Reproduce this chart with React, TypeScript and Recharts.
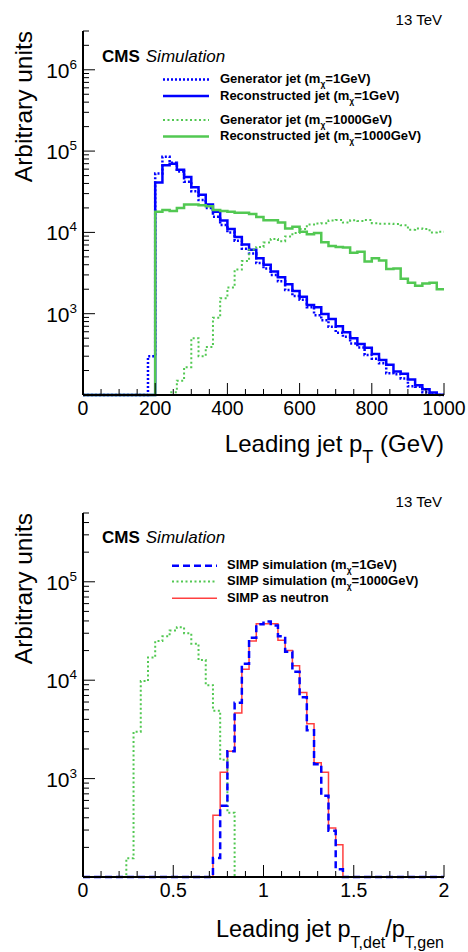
import React from 'react';
import { LineChart, Line, XAxis, YAxis, Legend } from 'recharts';

const FONT = '"Liberation Sans", Arial, Helvetica, sans-serif';
const BLUE = '#0000ff';
const GREEN = '#52c852';
const RED = '#ff4040';

// ---- top panel: leading jet pT, 20 GeV bins, 0..1000 GeV ----
const PT_BIN = 20;
const PT_GEN_1 = [
  0, 0, 0, 0, 0, 0, 0, 0, 0, 300,
  53000, 85000, 72000, 56000, 42000, 32000, 25000, 20000, 15600, 12300,
  10000, 7900, 6300, 5500, 4200, 3600, 3000, 2500, 1950, 1650,
  1480, 1200, 960, 830, 690, 585, 520, 430, 385, 310,
  280, 245, 185, 180, 160, 128, 126, 108, 102, 0,
];
const PT_RECO_1 = [
  0, 0, 0, 0, 0, 0, 0, 0, 0, 0,
  41000, 67000, 70000, 59000, 48000, 36000, 29000, 22000, 18000, 14000,
  11000, 8800, 7100, 6100, 4800, 4000, 3300, 2800, 2300, 1900,
  1620, 1280, 1200, 990, 860, 700, 590, 500, 425, 380,
  320, 270, 235, 195, 182, 155, 132, 118, 107, 101,
];
const PT_GEN_1000 = [
  0, 0, 0, 0, 0, 0, 0, 0, 0, 0,
  0, 0, 108, 150, 220, 500, 300, 390, 890, 1550,
  2100, 3500, 4450, 6100, 6600, 7500, 8300, 7800, 8900, 9800,
  11000, 12500, 12900, 13000, 14000, 14200, 13200, 14100, 13800, 14200,
  13000, 12800, 12800, 12700, 12200, 10800, 11200, 11000, 10000, 10200,
];
const PT_RECO_1000 = [
  0, 0, 0, 0, 0, 0, 0, 0, 0, 0,
  18000, 18800, 18300, 20000, 22000, 22000, 21500, 21000, 18800, 18300,
  18000, 17500, 17500, 16800, 15500, 14100, 14100, 13200, 11200, 11700,
  10200, 9500, 9800, 7550, 6800, 6600, 6500, 5600, 5800, 4400,
  4800, 4500, 3550, 3600, 2700, 2400, 2200, 2350, 2400, 2000,
];
const PT_X_TICKS = [
  0, 50, 100, 150, 200, 250, 300, 350, 400, 450, 500,
  550, 600, 650, 700, 750, 800, 850, 900, 950, 1000,
];
const PT_X_LABELS = [0, 200, 400, 600, 800, 1000];
const PT_Y_DOMAIN = [100, 3e6];

// ---- bottom panel: pT,det / pT,gen, 0.04 bins, 0..2 ----
const R_BIN = 0.04;
const R_SIM_1 = [
  0, 0, 0, 0, 0, 0, 0, 0, 0, 0,
  0, 0, 0, 0, 0, 0, 0, 0, 156, 530,
  1900, 5900, 14700, 27000, 37000, 39500, 36000, 28000, 19500, 12200,
  6700, 3100, 1400, 670, 295, 120, 0, 0, 0, 0,
  0, 0, 0, 0, 0, 0, 0, 0, 0, 0,
];
const R_SIM_1000 = [
  0, 0, 0, 0, 0, 0, 155, 3000, 9800, 17000,
  25000, 28000, 32000, 34500, 30000, 23500, 16000, 8900, 4900, 1550,
  450, 0, 0, 0, 0, 0, 0, 0, 0, 0,
  0, 0, 0, 0, 0, 0, 0, 0, 0, 0,
  0, 0, 0, 0, 0, 0, 0, 0, 0, 0,
];
const R_NEUTRON = [
  0, 0, 0, 0, 0, 0, 0, 0, 0, 0,
  0, 0, 0, 0, 0, 0, 0, 0, 425, 1160,
  1900, 4650, 12900, 25000, 37500, 37500, 37500, 25500, 20000, 14000,
  7500, 3600, 1450, 1160, 315, 213, 0, 0, 0, 0,
  0, 0, 0, 0, 0, 0, 0, 0, 0, 0,
];
const R_X_TICKS = [
  0, 0.1, 0.2, 0.3, 0.4, 0.5, 0.6, 0.7, 0.8, 0.9, 1,
  1.1, 1.2, 1.3, 1.4, 1.5, 1.6, 1.7, 1.8, 1.9, 2,
];
const R_X_LABELS = [0, 0.5, 1, 1.5, 2];
const R_Y_DOMAIN = [100, 5e5];

// histogram -> points at bin low edges, last edge repeats last bin (stepAfter)
function histRows(binWidth: number, floor: number, series: Record<string, number[]>) {
  const keys = Object.keys(series);
  const n = series[keys[0]].length;
  const rows: Record<string, number>[] = [];
  for (let i = 0; i <= n; i++) {
    const row: Record<string, number> = { x: +(i * binWidth).toFixed(4) };
    for (const k of keys) row[k] = Math.max(series[k][Math.min(i, n - 1)], floor);
    rows.push(row);
  }
  return rows;
}

function logTicks(lo: number, hi: number) {
  const out: number[] = [];
  for (let d = lo; d < hi; d *= 10) {
    for (let m = 1; m < 10; m++) {
      const v = m * d;
      if (v >= lo && v <= hi) out.push(v);
    }
  }
  return out;
}

const MAJOR = 12;
const MINOR = 6;

function XTick(props: any) {
  const { x, y, payload, side, labels } = props;
  const major = labels.includes(payload.value);
  const len = major ? MAJOR : MINOR;
  const dir = side === 'bottom' ? -1 : 1;
  return (
    <g>
      <line x1={x} y1={y} x2={x} y2={y + dir * len} stroke="#000" strokeWidth={1} />
      {side === 'bottom' && major && (
        <text x={x} y={y + 20} textAnchor="middle" fontSize={19.5} fontFamily={FONT} fill="#000">
          {String(payload.value)}
        </text>
      )}
    </g>
  );
}

function YTick(props: any) {
  const { x, y, payload, side, min } = props;
  const v = payload.value;
  const exp = Math.round(Math.log10(v));
  const major = Math.abs(Math.log10(v) - exp) < 1e-9;
  const len = major ? MAJOR : MINOR;
  const dir = side === 'left' ? 1 : -1;
  return (
    <g>
      <line x1={x} y1={y} x2={x + dir * len} y2={y} stroke="#000" strokeWidth={1} />
      {side === 'left' && major && v > min && (
        <text x={x - 6} y={y + 8} textAnchor="end" fontSize={21} fontFamily={FONT} fill="#000">
          10
          <tspan dy={-9} fontSize={13.5}>{exp}</tspan>
        </text>
      )}
    </g>
  );
}

type LegendItem = { color: string; width: number; dash?: string; text: string; sub?: string; rest?: string };

function LegendBox({ items, x0, x1, tx, rows }: { items: LegendItem[]; x0: number; x1: number; tx: number; rows: number[] }) {
  return (
    <svg width={468} height={476} style={{ overflow: 'visible' }}>
      {items.map((it, i) => (
        <g key={i}>
          <line x1={x0} x2={x1} y1={rows[i] - 3.5} y2={rows[i] - 3.5} stroke={it.color} strokeWidth={it.width} strokeDasharray={it.dash} />
          <text x={tx} y={rows[i]} fontSize={13} fontWeight="bold" fontFamily={FONT} fill="#000">
            {it.text}
            {it.sub && <tspan dy={4} fontSize={8.5}>{it.sub}</tspan>}
            {it.rest && <tspan dy={it.sub ? -4 : 0}>{it.rest}</tspan>}
          </text>
        </g>
      ))}
    </svg>
  );
}

function PanelText({ plotTop, cmsY, tevY, title }: { plotTop: number; cmsY: number; tevY: number; title: React.ReactNode }) {
  return (
    <svg width={468} height={476} style={{ position: 'absolute', left: 0, top: 0, pointerEvents: 'none' }} fontFamily={FONT}>
      <text x={442} y={tevY} textAnchor="end" fontSize={15}>13 TeV</text>
      <text x={102} y={cmsY} fontSize={17}>
        <tspan fontWeight="bold">CMS</tspan>
        <tspan fontStyle="italic" dx={6}>Simulation</tspan>
      </text>
      <text transform="rotate(-90)" x={-plotTop} y={32} textAnchor="end" fontSize={24.5}>Arbitrary units</text>
      {title}
    </svg>
  );
}

const topRows = histRows(PT_BIN, PT_Y_DOMAIN[0], {
  gen1: PT_GEN_1, reco1: PT_RECO_1, gen1000: PT_GEN_1000, reco1000: PT_RECO_1000,
});
const botRows = histRows(R_BIN, R_Y_DOMAIN[0], {
  sim1: R_SIM_1, sim1000: R_SIM_1000, neutron: R_NEUTRON,
});

const TOP_LEGEND: LegendItem[] = [
  { color: BLUE, width: 2.5, dash: '2 2', text: 'Generator jet (m', sub: 'χ', rest: '=1GeV)' },
  { color: BLUE, width: 2.5, text: 'Reconstructed jet (m', sub: 'χ', rest: '=1GeV)' },
  { color: GREEN, width: 2, dash: '2 2.5', text: 'Generator jet (m', sub: 'χ', rest: '=1000GeV)' },
  { color: GREEN, width: 2.5, text: 'Reconstructed jet (m', sub: 'χ', rest: '=1000GeV)' },
];
const BOT_LEGEND: LegendItem[] = [
  { color: BLUE, width: 2.5, dash: '7 4', text: 'SIMP simulation (m', sub: 'χ', rest: '=1GeV)' },
  { color: GREEN, width: 2, dash: '2 2.5', text: 'SIMP simulation (m', sub: 'χ', rest: '=1000GeV)' },
  { color: RED, width: 1.5, text: 'SIMP as neutron' },
];

export default function App() {
  const topYTicks = logTicks(PT_Y_DOMAIN[0], PT_Y_DOMAIN[1]);
  const botYTicks = logTicks(R_Y_DOMAIN[0], R_Y_DOMAIN[1]);
  const axisLine = { stroke: '#000', strokeWidth: 2 };

  return (
    <div style={{ position: 'absolute', left: 0, top: 0, width: 468, height: 952, background: '#fff', fontFamily: FONT }}>
      <div style={{ position: 'relative', width: 468, height: 476 }}>
        <LineChart width={468} height={476} data={topRows} margin={{ top: 31, right: 24, bottom: 0, left: 0 }}>
          <XAxis dataKey="x" type="number" domain={[0, 1000]} ticks={PT_X_TICKS} interval={0} height={81}
            tickLine={false} tickSize={0} tickMargin={0} axisLine={axisLine}
            tick={(p: any) => <XTick {...p} side="bottom" labels={PT_X_LABELS} />} />
          <XAxis xAxisId="top" orientation="top" dataKey="x" type="number" domain={[0, 1000]} ticks={PT_X_TICKS} interval={0} height={0}
            tickLine={false} tickSize={0} tickMargin={0} axisLine={axisLine}
            tick={(p: any) => <XTick {...p} side="top" labels={PT_X_LABELS} />} />
          <YAxis type="number" scale="log" domain={PT_Y_DOMAIN} ticks={topYTicks} interval={0} width={83}
            tickLine={false} tickSize={0} tickMargin={0} axisLine={axisLine}
            tick={(p: any) => <YTick {...p} side="left" min={PT_Y_DOMAIN[0]} />} />
          <YAxis yAxisId="right" orientation="right" type="number" scale="log" domain={PT_Y_DOMAIN} ticks={topYTicks} interval={0} width={0}
            tickLine={false} tickSize={0} tickMargin={0} axisLine={axisLine}
            tick={(p: any) => <YTick {...p} side="right" min={PT_Y_DOMAIN[0]} />} />
          <Line dataKey="gen1" type="stepAfter" stroke={BLUE} strokeWidth={2.5} strokeDasharray="2 2" dot={false} isAnimationActive={false} />
          <Line dataKey="reco1" type="stepAfter" stroke={BLUE} strokeWidth={2.5} dot={false} isAnimationActive={false} />
          <Line dataKey="gen1000" type="stepAfter" stroke={GREEN} strokeWidth={2} strokeDasharray="2 2.5" dot={false} isAnimationActive={false} />
          <Line dataKey="reco1000" type="stepAfter" stroke={GREEN} strokeWidth={2.5} dot={false} isAnimationActive={false} />
          <Legend layout="vertical" align="center" verticalAlign="middle"
            wrapperStyle={{ top: 0, left: 0, width: 468, height: 476, pointerEvents: 'none' }}
            content={() => <LegendBox items={TOP_LEGEND} x0={163} x1={209} tx={220} rows={[83, 99.5, 123.5, 140]} />} />
        </LineChart>
        <PanelText plotTop={31} cmsY={62} tevY={25}
          title={
            <text x={444} y={452} textAnchor="end" fontSize={24}>
              Leading jet p<tspan dy={11} fontSize={18}>T</tspan><tspan dy={-11}> (GeV)</tspan>
            </text>
          } />
      </div>
      <div style={{ position: 'relative', width: 468, height: 476 }}>
        <LineChart width={468} height={476} data={botRows} margin={{ top: 37, right: 24, bottom: 0, left: 0 }}>
          <XAxis dataKey="x" type="number" domain={[0, 2]} ticks={R_X_TICKS} interval={0} height={75}
            tickLine={false} tickSize={0} tickMargin={0} axisLine={axisLine}
            tick={(p: any) => <XTick {...p} side="bottom" labels={R_X_LABELS} />} />
          <XAxis xAxisId="top" orientation="top" dataKey="x" type="number" domain={[0, 2]} ticks={R_X_TICKS} interval={0} height={0}
            tickLine={false} tickSize={0} tickMargin={0} axisLine={axisLine}
            tick={(p: any) => <XTick {...p} side="top" labels={R_X_LABELS} />} />
          <YAxis type="number" scale="log" domain={R_Y_DOMAIN} ticks={botYTicks} interval={0} width={83}
            tickLine={false} tickSize={0} tickMargin={0} axisLine={axisLine}
            tick={(p: any) => <YTick {...p} side="left" min={R_Y_DOMAIN[0]} />} />
          <YAxis yAxisId="right" orientation="right" type="number" scale="log" domain={R_Y_DOMAIN} ticks={botYTicks} interval={0} width={0}
            tickLine={false} tickSize={0} tickMargin={0} axisLine={axisLine}
            tick={(p: any) => <YTick {...p} side="right" min={R_Y_DOMAIN[0]} />} />
          <Line dataKey="neutron" type="stepAfter" stroke={RED} strokeWidth={1.5} dot={false} isAnimationActive={false} />
          <Line dataKey="sim1000" type="stepAfter" stroke={GREEN} strokeWidth={2} strokeDasharray="2 2.5" dot={false} isAnimationActive={false} />
          <Line dataKey="sim1" type="stepAfter" stroke={BLUE} strokeWidth={2.5} strokeDasharray="7 4" dot={false} isAnimationActive={false} />
          <Legend layout="vertical" align="center" verticalAlign="middle"
            wrapperStyle={{ top: 0, left: 0, width: 468, height: 476, pointerEvents: 'none' }}
            content={() => <LegendBox items={BOT_LEGEND} x0={172} x1={217} tx={227} rows={[93.3, 109, 125.7]} />} />
        </LineChart>
        <PanelText plotTop={37} cmsY={67.3} tevY={30.7}
          title={
            <text x={444} y={460.7} textAnchor="end" fontSize={23.5}>
              Leading jet p<tspan dy={11} fontSize={16}>T,det</tspan>
              <tspan dy={-11}>/p</tspan><tspan dy={11} fontSize={16}>T,gen</tspan>
            </text>
          } />
      </div>
    </div>
  );
}
